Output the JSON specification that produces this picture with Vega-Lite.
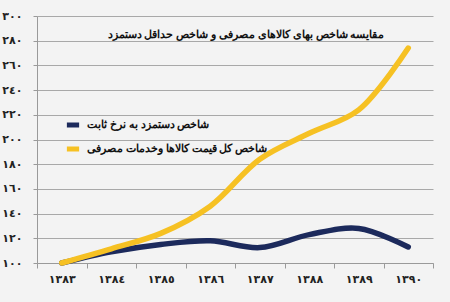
{
  "$schema": "https://vega.github.io/schema/vega-lite/v6.json",
  "width": 396,
  "height": 247,
  "autosize": "none",
  "padding": {"left": 37, "top": 16, "right": 17, "bottom": 39},
  "background": "#f3f3f3",
  "title": {
    "text": "مقایسه شاخص بهای کالاهای مصرفی و شاخص حداقل دستمزد",
    "anchor": "middle",
    "orient": "top",
    "dx": 11,
    "dy": 34,
    "font": "Noto Sans",
    "fontSize": 11,
    "fontWeight": "bold",
    "color": "#111111"
  },
  "data": {
    "values": [
      {"year": 1383, "series": "شاخص دستمزد به نرخ ثابت", "value": 100},
      {"year": 1384, "series": "شاخص دستمزد به نرخ ثابت", "value": 109},
      {"year": 1385, "series": "شاخص دستمزد به نرخ ثابت", "value": 115},
      {"year": 1386, "series": "شاخص دستمزد به نرخ ثابت", "value": 118},
      {"year": 1387, "series": "شاخص دستمزد به نرخ ثابت", "value": 112.5},
      {"year": 1388, "series": "شاخص دستمزد به نرخ ثابت", "value": 123},
      {"year": 1389, "series": "شاخص دستمزد به نرخ ثابت", "value": 128},
      {"year": 1390, "series": "شاخص دستمزد به نرخ ثابت", "value": 113},
      {"year": 1383, "series": "شاخص کل قیمت کالاها وخدمات مصرفی", "value": 100},
      {"year": 1384, "series": "شاخص کل قیمت کالاها وخدمات مصرفی", "value": 111.5},
      {"year": 1385, "series": "شاخص کل قیمت کالاها وخدمات مصرفی", "value": 124},
      {"year": 1386, "series": "شاخص کل قیمت کالاها وخدمات مصرفی", "value": 146},
      {"year": 1387, "series": "شاخص کل قیمت کالاها وخدمات مصرفی", "value": 184},
      {"year": 1388, "series": "شاخص کل قیمت کالاها وخدمات مصرفی", "value": 205},
      {"year": 1389, "series": "شاخص کل قیمت کالاها وخدمات مصرفی", "value": 224},
      {"year": 1390, "series": "شاخص کل قیمت کالاها وخدمات مصرفی", "value": 274}
    ]
  },
  "mark": {"type": "line", "interpolate": "catmull-rom", "strokeWidth": 5.5, "strokeCap": "round"},
  "encoding": {
    "x": {
      "field": "year",
      "type": "ordinal",
      "bandPosition": 0.5,
      "scale": {"type": "band", "paddingInner": 0, "paddingOuter": 0},
      "axis": {
        "title": null,
        "format": "d",
        "formatType": "number",
        "labelAngle": 0,
        "tickBand": "extent",
        "grid": false,
        "domainColor": "#9a9a9a",
        "tickColor": "#9a9a9a",
        "tickSize": 5,
        "labelFont": "DejaVu Sans",
        "labelFontSize": 11,
        "labelFontWeight": "bold",
        "labelColor": "#222222",
        "labelPadding": 5
      }
    },
    "y": {
      "field": "value",
      "type": "quantitative",
      "scale": {"domain": [100, 300], "nice": false, "zero": false},
      "axis": {
        "title": null,
        "values": [100, 120, 140, 160, 180, 200, 220, 240, 260, 280, 300],
        "format": "d",
        "gridColor": "#a8a8a8",
        "gridWidth": 1,
        "domainColor": "#9a9a9a",
        "tickColor": "#9a9a9a",
        "tickSize": 4,
        "labelFont": "DejaVu Sans",
        "labelFontSize": 11,
        "labelFontWeight": "bold",
        "labelColor": "#222222",
        "labelPadding": 11
      }
    },
    "color": {
      "field": "series",
      "type": "nominal",
      "scale": {
        "domain": ["شاخص دستمزد به نرخ ثابت", "شاخص کل قیمت کالاها وخدمات مصرفی"],
        "range": ["#1c2a5c", "#f6c123"]
      },
      "legend": {
        "title": null,
        "orient": "none",
        "legendX": 27,
        "legendY": 100,
        "symbolType": "stroke",
        "symbolSize": 150,
        "symbolStrokeWidth": 5,
        "rowPadding": 4,
        "labelFont": "Noto Sans",
        "labelFontSize": 11,
        "labelFontWeight": "bold",
        "labelColor": "#111111",
        "labelLimit": 300,
        "labelOffset": 5
      }
    }
  },
  "config": {
    "view": {"stroke": null},
    "locale": {
      "number": {
        "decimal": ".",
        "thousands": ",",
        "grouping": [3],
        "currency": ["", ""],
        "numerals": ["٠", "١", "٢", "٣", "٤", "٥", "٦", "٧", "٨", "٩"]
      }
    }
  }
}
